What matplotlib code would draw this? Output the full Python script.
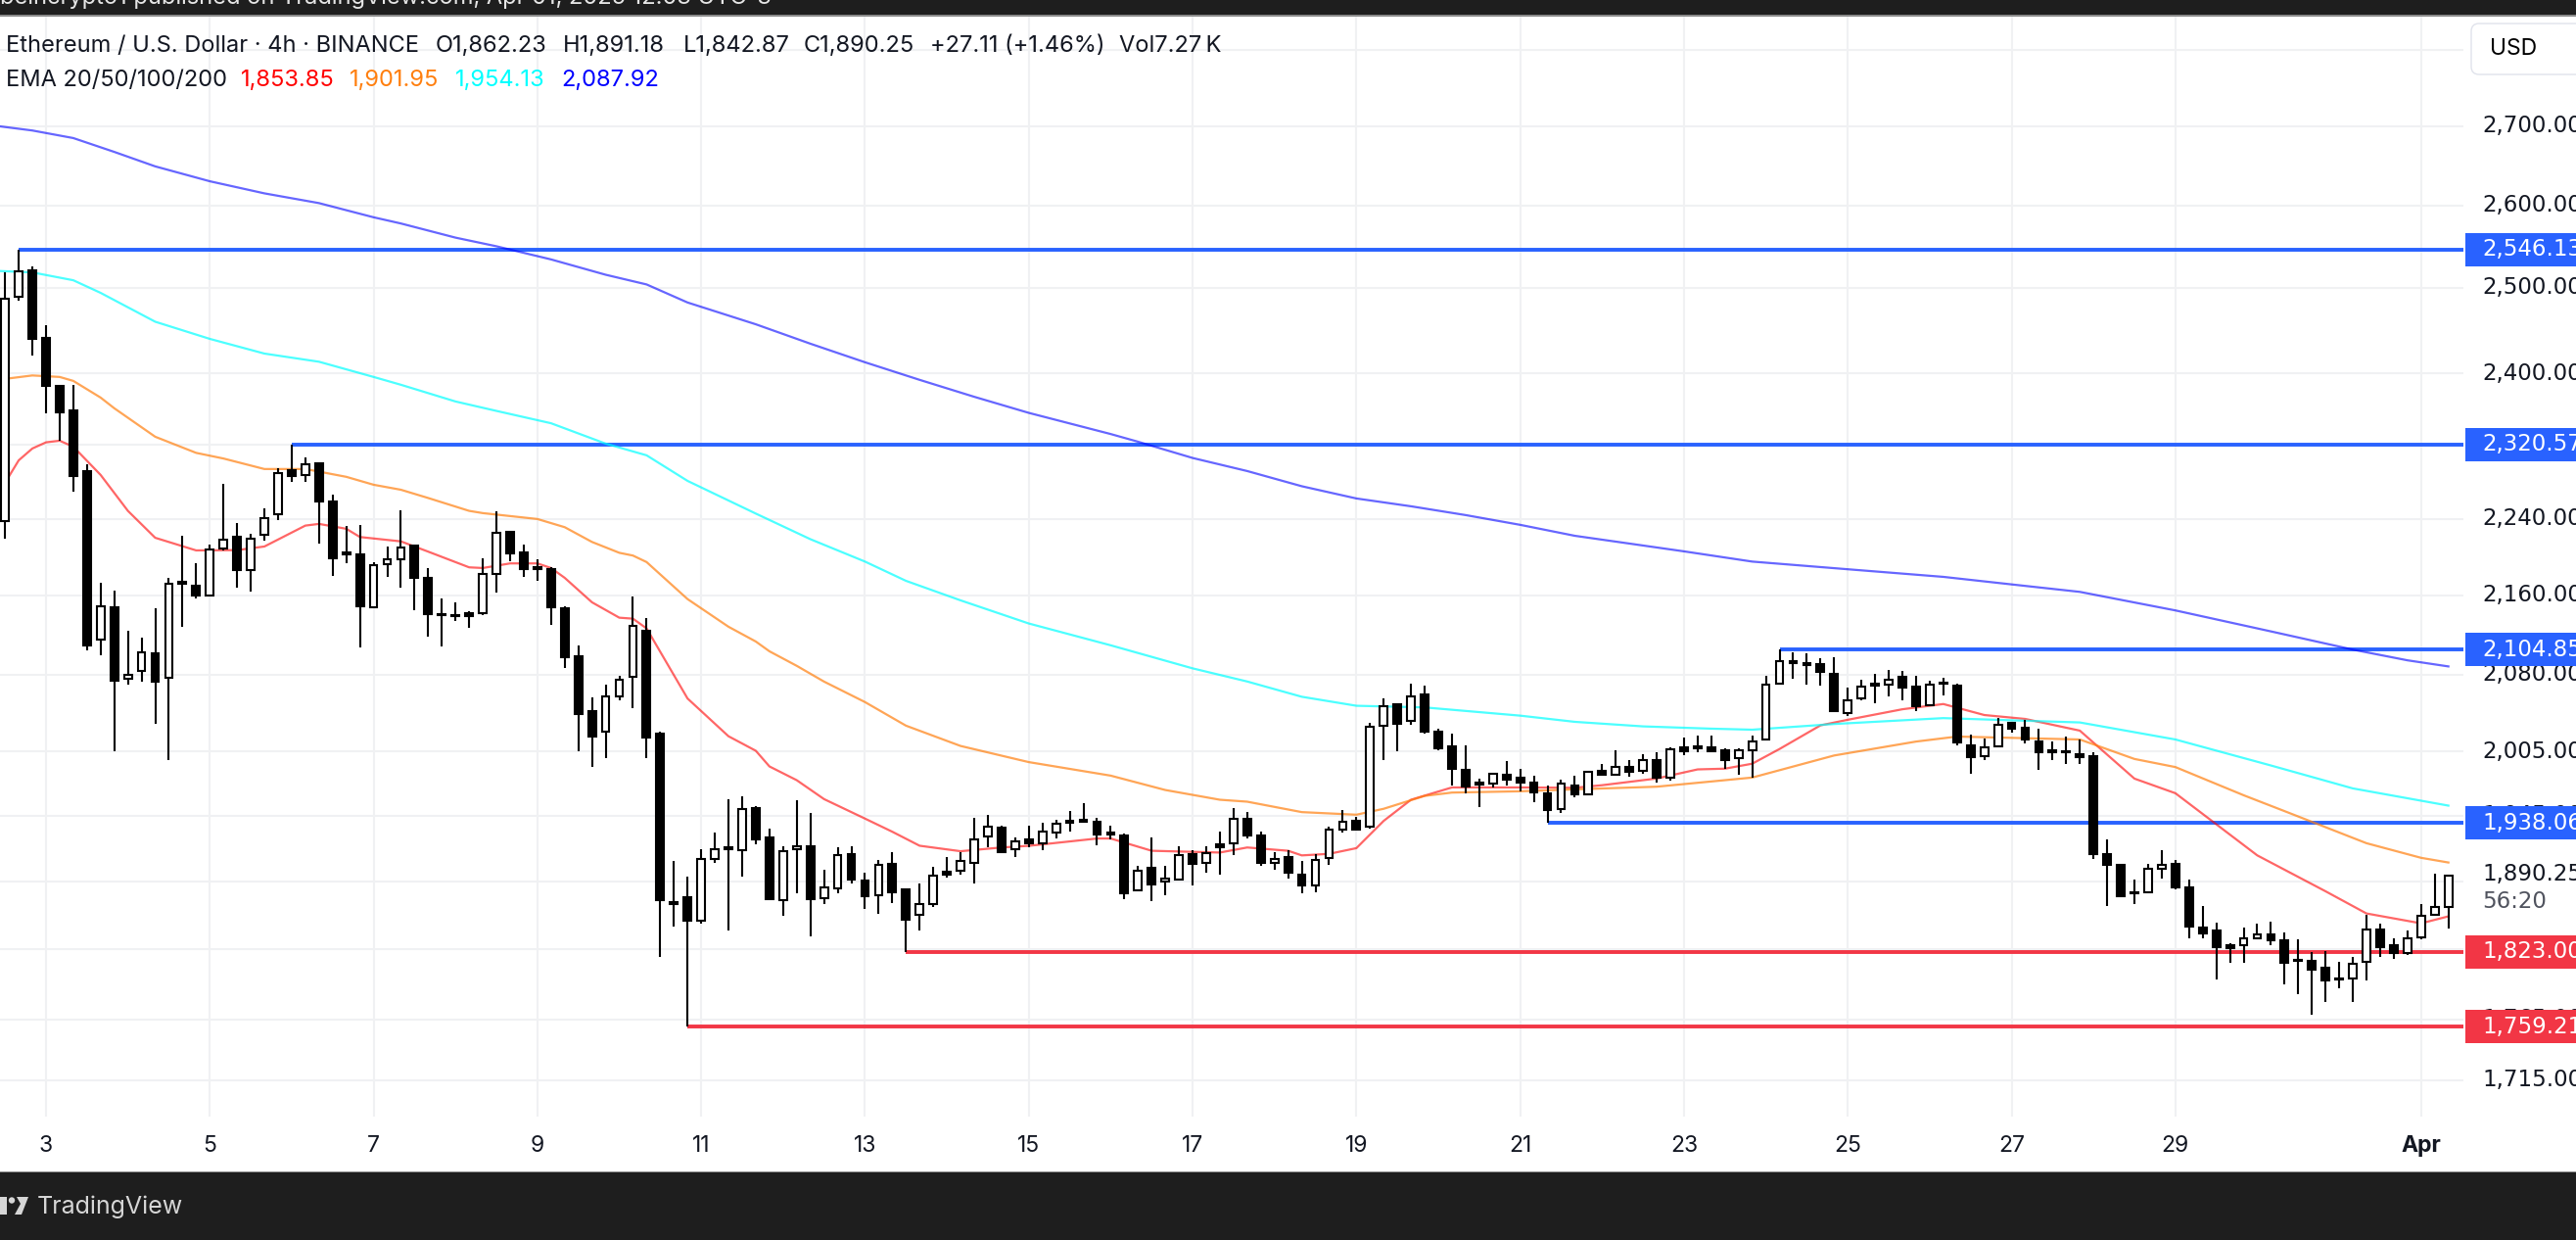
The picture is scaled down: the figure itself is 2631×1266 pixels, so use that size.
# -*- coding: utf-8 -*-
import numpy as np
import matplotlib
matplotlib.use('Agg')
import matplotlib.pyplot as plt
from matplotlib.patches import Rectangle, FancyBboxPatch, Circle, Polygon

W, H = 2631, 1266
plt.rcParams['font.family'] = ['Inter', 'DejaVu Sans']

# 4h candles, first one is three bars before the "3" tick
opens = [2237.5, 2489.5, 2521, 2441, 2386, 2358, 2291, 2115, 2147.6, 2075.5,
         2083.6, 2100.8, 2076.5, 2173.4, 2169.3, 2160, 2208.5, 2220.5, 2185.8, 2223,
         2245, 2292, 2287, 2300, 2258, 2204, 2202, 2148, 2192, 2197,
         2211, 2177.5, 2141, 2140, 2142, 2142, 2181.9, 2225.7, 2204, 2188.7,
         2186.7, 2147, 2098, 2044, 2024, 2058, 2078, 2124, 2022, 1866.3,
         1870.6, 1850, 1905, 1916, 1913, 1952, 1925, 1868, 1913.9, 1917,
         1869.7, 1878.5, 1909.4, 1886, 1872.6, 1900.5, 1877.6, 1855, 1864.5, 1894,
         1894.5, 1902, 1925.5, 1933.6, 1914, 1922.8, 1919.8, 1929.3, 1940, 1941,
         1939, 1929.3, 1927, 1876.6, 1897, 1884.5, 1887, 1910, 1901.6, 1918.7,
         1919, 1941.8, 1927, 1901.4, 1907, 1891, 1881.3, 1906, 1932, 1940,
         1934.8, 2029.9, 2051, 2034.4, 2060, 2023.9, 2009.7, 1987.5, 1975.4, 1974.5,
         1982.9, 1980, 1975.4, 1966, 1950.8, 1973, 1964.5, 1986.5, 1983.4, 1990,
         1987, 1996.6, 1980, 2008.7, 2009.7, 2008.7, 2006, 1998.8, 2006.7, 2017,
         2070.6, 2093, 2091, 2090.4, 2081, 2042, 2056, 2070.6, 2070, 2078,
         2067.8, 2049.4, 2072, 2068.7, 2010.8, 2001, 2010.4, 2032.7, 2027.7, 2014.5,
         2006, 2005.5, 2003, 2000.5, 1910, 1899.7, 1875, 1875, 1896, 1900.5,
         1880, 1843.7, 1841, 1828.4, 1828.7, 1834.9, 1837.8, 1833, 1815.7, 1814.6,
         1809, 1799.8, 1799.6, 1814, 1842, 1828.4, 1821.6, 1835, 1855, 1862.23]
highs = [2518.7, 2546.1, 2525, 2456, 2387, 2387, 2299, 2173, 2164.6, 2123.7,
         2116.7, 2146.6, 2177.8, 2221.8, 2193, 2212.6, 2277.4, 2235, 2223.6, 2251,
         2294, 2320.6, 2306, 2300.5, 2266, 2232, 2233, 2194, 2210, 2249,
         2213, 2187.7, 2156.6, 2153, 2144, 2198, 2247.7, 2226.7, 2212.6, 2197,
         2188.7, 2148.6, 2109, 2057, 2070, 2079, 2158.6, 2136.7, 2024, 1903,
         1889, 1913.9, 1929, 1960, 1962.7, 1954, 1933, 1916.5, 1959, 1947,
         1895, 1916, 1917, 1892.8, 1904, 1911, 1878.5, 1883, 1898, 1906.8,
         1911, 1942.7, 1945.7, 1935.4, 1924.6, 1935.4, 1938, 1941, 1949, 1956.3,
         1942.7, 1935.4, 1928, 1899, 1924.6, 1899, 1916.6, 1913, 1917, 1930,
         1952, 1948, 1930.5, 1911, 1913.5, 1903, 1909.4, 1935, 1950, 1943.6,
         2032.7, 2056, 2052, 2070.6, 2069, 2026.7, 2022, 2010.8, 1979, 1985,
         1996, 1989, 1982, 1972.7, 1978, 1982, 1986, 1993, 2006, 1996.5,
         2002.7, 2004.8, 2009, 2018.5, 2020, 2020, 2007.8, 2007.8, 2020.6, 2079,
         2104.85, 2102, 2101, 2096, 2097, 2067, 2075, 2081, 2084.6, 2083.6,
         2079, 2073.9, 2077, 2070.6, 2021.3, 2017.6, 2037, 2033.9, 2035.6, 2026.7,
         2015, 2019, 2016.6, 2004, 1922.8, 1901, 1887, 1901, 1913, 1904,
         1887, 1862.8, 1848, 1830, 1844, 1847.4, 1848.9, 1839.5, 1833.5, 1823,
         1823.6, 1814, 1818, 1855, 1847.7, 1834.6, 1841.4, 1865, 1891.6, 1891.18]
lows = [2218.7, 2485, 2421, 2355, 2324.6, 2269, 2104, 2099, 2005, 2070,
        2073, 2032, 1997, 2128, 2157, 2158.6, 2206.8, 2167.6, 2164, 2217,
        2238, 2279, 2279, 2214, 2180, 2193.5, 2107, 2148, 2179, 2168,
        2145, 2118, 2108, 2134, 2127, 2140, 2163, 2195, 2179, 2175,
        2130, 2086, 2005, 1990.9, 1999, 2055, 2047, 1999, 1818, 1845,
        1759.2, 1847.7, 1902, 1841.7, 1889, 1918.6, 1868, 1854, 1874, 1836.6,
        1865, 1874.6, 1883.3, 1860.8, 1856.5, 1866, 1823, 1841.7, 1862.5, 1888.6,
        1890.7, 1883, 1916, 1911, 1906.5, 1916, 1913.5, 1924, 1930.5, 1939.6,
        1918, 1923, 1869.4, 1876.6, 1867.7, 1872.6, 1887, 1881.6, 1893, 1891,
        1909, 1924, 1899, 1895.7, 1887.7, 1874, 1875.5, 1900, 1929.6, 1932,
        1933, 1997, 2005.8, 2030.8, 2022.5, 2006.7, 1973, 1965.7, 1953, 1971,
        1973, 1967, 1957.5, 1938.1, 1947, 1962, 1964.5, 1983.4, 1983, 1981,
        1984, 1976, 1977.9, 2002, 2004, 2004, 1989, 1982.6, 1980, 2016,
        2070.6, 2075.5, 2070, 2069, 2043.6, 2039, 2054.7, 2052, 2058.5, 2055,
        2044, 2049.4, 2059, 2010.8, 1984, 1997.4, 2008.9, 2023, 2013, 1988,
        1996.5, 1993, 1993, 1905.5, 1863, 1872, 1865, 1875, 1887.7, 1877.8,
        1834.9, 1834.9, 1799, 1813.7, 1813.7, 1833.5, 1828.4, 1795, 1786.8, 1769.4,
        1779.7, 1791.3, 1780, 1798.4, 1818.7, 1817, 1820, 1833.7, 1855, 1842.87]
closes = [2487.2, 2520, 2440, 2386, 2356, 2286, 2109, 2149, 2074, 2080,
          2102.4, 2073, 2172, 2172, 2160, 2207, 2218, 2186, 2219, 2241,
          2289.5, 2286, 2299, 2258, 2198.6, 2202.6, 2149, 2191, 2197, 2209,
          2178, 2141, 2140, 2139, 2139, 2182, 2225, 2203.7, 2187.3, 2187,
          2148, 2097.5, 2041.6, 2019.7, 2058, 2075, 2129, 2018.8, 1868.6, 1865,
          1850, 1905.5, 1914.4, 1914.4, 1951, 1923, 1869, 1912, 1917, 1869.4,
          1880, 1909, 1887, 1872, 1900, 1875.5, 1851, 1865, 1890, 1891,
          1903, 1923, 1935, 1911.5, 1921, 1919, 1930.5, 1937.8, 1938.7, 1939.6,
          1927.5, 1927.8, 1874, 1894.8, 1882.5, 1887.7, 1909, 1901, 1910.8, 1916,
          1942, 1926.8, 1902, 1905.5, 1893, 1881.6, 1904.6, 1932, 1939, 1932,
          2028.9, 2049, 2032, 2058, 2024.4, 2008, 1988.9, 1972, 1974, 1984,
          1978, 1976, 1966.6, 1950.5, 1974.5, 1965, 1986, 1983.4, 1990, 1986,
          1996.5, 1980.6, 2007.6, 2005.6, 2008, 2005, 1997, 2006.7, 2014.6, 2070,
          2093.6, 2091, 2089.7, 2082, 2043.6, 2055, 2068, 2069, 2075, 2067,
          2049, 2070, 2070.6, 2014, 2000, 2009.5, 2030.8, 2026.7, 2016.4, 2004.8,
          2004.8, 2004, 2000, 1910, 1900, 1872, 1874, 1896.6, 1900, 1880,
          1845, 1839, 1827, 1825.9, 1834.6, 1838.3, 1832.7, 1813, 1814.6, 1807,
          1798.4, 1798.8, 1812.8, 1842.5, 1827, 1821.6, 1834.9, 1854.4, 1862, 1890.25]
bars = np.arange(-3, 177)

# moving averages, read at the bars where the line bends
ema20_x = [-3, -2, -1, 0, 1, 2, 4, 6, 8, 11, 14, 16, 19, 20, 22, 23, 26, 28, 31, 32,
           34, 36, 37, 38, 40, 42, 43, 44, 47, 50, 52, 53, 55, 57, 60, 62, 64, 67, 70, 72,
           77, 78, 81, 86, 88, 91, 92, 94, 96, 98, 100, 103, 108, 112, 114, 118, 121, 123, 125, 127,
           130, 132, 136, 139, 142, 145, 149, 153, 156, 162, 167, 170, 174, 176]
ema20 = [2278.5, 2303, 2316, 2322.8, 2324.6, 2318, 2287.1, 2248.3, 2219.7, 2206.4,
         2206.7, 2210.5, 2232.6, 2234.4, 2229.2, 2220.5, 2215.9, 2205.1, 2188.7, 2188,
         2192.8, 2192.8, 2188, 2177.8, 2152.6, 2136.9, 2135.9, 2126, 2056.3, 2019.7,
         2005.8, 1990.9, 1977.9, 1960.2, 1942.1, 1930, 1917.2, 1912.2, 1915.6, 1917.1,
         1923.8, 1923.8, 1912.6, 1911, 1915.6, 1912.6, 1908.4, 1909.8, 1915, 1940,
         1959.6, 1971.1, 1971.1, 1970.8, 1973.2, 1979.5, 1988.1, 1988.8, 1993.5, 2007.5,
         2030.2, 2035.6, 2045.8, 2050.9, 2040.2, 2036.4, 2025.1, 1979.4, 1965.7, 1908.4,
         1876.1, 1856.4, 1847.7, 1853.85]
ema50_x = [-3, -1, 1, 2, 4, 5, 8, 11, 13, 16, 19, 22, 24, 26, 28, 31, 32, 36, 38, 40,
           42, 43, 44, 47, 50, 52, 53, 55, 57, 60, 63, 67, 72, 78, 82, 86, 88, 92, 96, 98,
           101, 103, 108, 112, 118, 122, 125, 131, 137, 140, 149, 153, 156, 161, 164, 170, 174, 176]
ema50 = [2394, 2397.9, 2396.2, 2391.7, 2372.8, 2360.8, 2329, 2311.2, 2305, 2293.5,
         2293.5, 2285, 2276.4, 2271, 2262.1, 2248.3, 2245.9, 2239.6, 2230.9, 2215.3,
         2203.9, 2201, 2194.2, 2155.9, 2127.7, 2112.8, 2103, 2088.5, 2072.9, 2052.8,
         2029.9, 2010.4, 1995, 1982.2, 1968.7, 1959.6, 1957.8, 1948.1, 1945.7, 1951.2,
         1963.2, 1966.3, 1967.5, 1969.3, 1971.8, 1976.7, 1980.4, 2001.3, 2014.6, 2019.4,
         2016.6, 1998, 1990.3, 1963.8, 1949, 1919.5, 1906.2, 1901.95]
ema100_x = [-4, -1, 2, 4, 8, 12, 16, 20, 24, 26, 30, 33, 37, 41, 44, 47, 52, 56, 60, 63,
            67, 72, 78, 84, 88, 92, 96, 101, 108, 112, 117, 122, 125, 131, 139, 149, 156, 163, 169, 176]
ema100 = [2520.5, 2518.4, 2509, 2494, 2460, 2440, 2423, 2413.6, 2396.2, 2387.3,
          2368.4, 2357.8, 2344, 2321.4, 2308.5, 2280.6, 2245.4, 2218.2, 2194.7, 2174.7,
          2154.6, 2131, 2109, 2086, 2073, 2058, 2049.2, 2047.6, 2039.6, 2033.6,
          2029.2, 2027, 2026, 2031.5, 2037.2, 2033, 2016.6, 1991.8, 1970.2, 1954.13]
ema200_x = [-4, -1, 2, 5, 8, 12, 16, 20, 24, 26, 30, 33, 37, 41, 44, 47, 52, 56, 60, 64,
            68, 72, 78, 80, 84, 88, 92, 96, 100, 104, 108, 112, 116, 120, 125, 132, 139, 144, 149, 156,
            163, 169, 173, 176]
ema200 = [2701, 2694.3, 2684.6, 2667, 2648.7, 2630, 2614.9, 2602.8, 2585.3, 2577.7,
          2560.4, 2549.9, 2534, 2515.6, 2504, 2482.6, 2457, 2434.4, 2413, 2392.9,
          2373.7, 2355.6, 2332, 2323.5, 2305.6, 2291.3, 2274.8, 2261.6, 2253.2, 2243.8,
          2233.4, 2221.8, 2213.6, 2205.4, 2194.7, 2186.7, 2178.8, 2171, 2163.3, 2144.3,
          2123, 2104.7, 2094, 2087.92]

# support / resistance levels: price, first bar, colour
level_prices = [2546.13, 2320.57, 2104.85, 1938.06, 1823.0, 1759.21]
level_starts = [-2, 18, 127, 110, 63, 47]
level_colors = ['#2962ff', '#2962ff', '#2962ff', '#2962ff', '#f23645', '#f23645']

grid_prices = [2800, 2700, 2600, 2500, 2400, 2320, 2240, 2160, 2080, 2005, 1945, 1885, 1825, 1765, 1715]
price_labels = [2700, 2600, 2500, 2400, 2240, 2160, 2080, 2005, 1945, 1765, 1715]
day_ticks = list(range(0, 157, 12)) + [174]
day_labels = ['3', '5', '7', '9', '11', '13', '15', '17', '19', '21', '23', '25', '27', '29', 'Apr']
price_font = ['DejaVu Sans']


def fx(x):
    return x / W


def fy(y):
    return 1 - y / H


def put(x, y, s, **kw):
    kw.setdefault('color', '#131722')
    kw.setdefault('va', 'center')
    return fig.text(fx(x), fy(y), s, **kw)


fig = plt.figure(figsize=(W / 100, H / 100), dpi=100, facecolor='white')
ax = fig.add_axes([0, fy(1140), fx(2516), fy(16.5) - fy(1140)])
ax.set_yscale('log')
ax.set_xlim(-3.37, 177.1)
ax.set_ylim(1685.4, 2844.9)
for s in ax.spines.values():
    s.set_visible(False)
ax.minorticks_off()
ax.set_yticks(grid_prices)
ax.set_xticks(day_ticks)
ax.tick_params(length=0, labelleft=False, labelbottom=False, which='both')
ax.grid(True, color='#f0f1f3', linewidth=1.5)
ax.set_axisbelow(True)

for p, start, c in zip(level_prices, level_starts, level_colors):
    ax.plot([start, 177.1], [p, p], color=c, linewidth=2.8, zorder=2, solid_capstyle='butt')

ax.plot(ema20_x, ema20, color='#ff0000', alpha=0.6, linewidth=1.6, zorder=3)
ax.plot(ema50_x, ema50, color='#ff7f0e', alpha=0.7, linewidth=1.6, zorder=3)
ax.plot(ema100_x, ema100, color='#00ffff', alpha=0.7, linewidth=1.6, zorder=3)
ax.plot(ema200_x, ema200, color='#0000ff', alpha=0.6, linewidth=1.6, zorder=3)

opens = np.array(opens)
closes = np.array(closes)
ax.vlines(bars, lows, highs, color='black', linewidth=1.5, zorder=4)
body_low = np.minimum(opens, closes)
body_h = np.abs(closes - opens)
faces = ['white' if c >= o else 'black' for o, c in zip(opens, closes)]
ax.bar(bars, body_h, bottom=body_low, width=0.56, color=faces, edgecolor='black', linewidth=1.5, zorder=5)

# legend
put(6, 47, 'Ethereum / U.S. Dollar · 4h · BINANCE', fontsize=17)
put(444.6, 47, 'O1,862.23', fontsize=17)
put(575, 47, 'H1,891.18', fontsize=17)
put(698, 47, 'L1,842.87', fontsize=17)
put(821, 47, 'C1,890.25', fontsize=17)
put(950, 47, '+27.11 (+1.46%)', fontsize=17)
put(1143, 47, 'Vol7.27\u2009K', fontsize=17)
put(6, 82, 'EMA 20/50/100/200', fontsize=17)
put(246, 82, '1,853.85', fontsize=17, color='#ff0000')
put(357, 82, '1,901.95', fontsize=17, color='#ff7f0e')
put(465, 82, '1,954.13', fontsize=17, color='#00ffff')
put(573, 82, '2,087.92', fontsize=17, color='#0000ff')

# price axis
axis_bg = Rectangle((fx(2517), fy(1140)), fx(114), fy(16.5) - fy(1140), transform=fig.transFigure,
                    facecolor='white', edgecolor='none', zorder=1)
fig.add_artist(axis_bg)
for p in price_labels:
    y = ax.transData.transform((0, p))[1]
    fig.text(fx(2535), y / H, '{:,.2f}'.format(p), fontsize=16.5, color='#131722', va='center', zorder=2,
             family=price_font)
for p, c in zip(level_prices, level_colors):
    y = ax.transData.transform((0, p))[1]
    fig.add_artist(Rectangle((fx(2518), (y - 17) / H), fx(113), 34 / H, transform=fig.transFigure,
                             facecolor=c, edgecolor='none', zorder=3))
    fig.text(fx(2535), y / H, '{:,.2f}'.format(p), fontsize=16.5, color='white', va='center', zorder=4,
             family=price_font)
put(2535, 892.7, '1,890.25', fontsize=16.5, zorder=4, family=price_font)
put(2535, 920.7, '56:20', fontsize=16.5, color='#50535e', zorder=4, family=price_font)
fig.add_artist(FancyBboxPatch((2524, H - 76), 140, 52, boxstyle='round,pad=0,rounding_size=8',
                              transform=None, facecolor='white', edgecolor='#e0e3eb', linewidth=1, zorder=3))
put(2543, 49.5, 'USD', fontsize=16.5, zorder=4, color='#000000')

# time axis
for t, lab in zip(day_ticks, day_labels):
    x = ax.transData.transform((t, 2000))[0]
    put(x, 1170, lab, fontsize=16.5, ha='center', fontweight='bold' if lab == 'Apr' else 'normal')

# dark header and footer
fig.add_artist(Rectangle((0, fy(16)), 1, 16 / H, transform=fig.transFigure, facecolor='#1e1e1e', edgecolor='none', zorder=6))
fig.add_artist(Rectangle((0, fy(17)), 1, 1.5 / H, transform=fig.transFigure, facecolor='#8a8a8a', edgecolor='none', zorder=6))
fig.add_artist(Rectangle((0, 0), 1, (H - 1196) / H, transform=fig.transFigure, facecolor='#1e1e1e', edgecolor='none', zorder=6))
fig.add_artist(Rectangle((0, fy(1197)), 1, 1.5 / H, transform=fig.transFigure, facecolor='#8a8a8a', edgecolor='none', zorder=6))
put(0, 4, 'beincrypto1 published on TradingView.com, Apr 01, 2025 12:03 UTC-3', fontsize=17, color='#e6e6e6',
    va='baseline', zorder=7)
put(38, 1232, 'TradingView', fontsize=18, color='#d6d6d6', zorder=7)

# logo, cut off at the left edge
logo = '#d6d6d6'
fig.add_artist(Rectangle((0, fy(1240)), 7 / W, 18 / H, transform=fig.transFigure, facecolor=logo, edgecolor='none', zorder=7))
fig.add_artist(Circle((12, H - 1225.5), 3.2, transform=None, facecolor=logo, edgecolor='none', zorder=7))
fig.add_artist(Polygon([(15, H - 1240), (22, H - 1240), (29, H - 1222), (17, H - 1222), (21, H - 1229)], closed=True,
                       transform=None, facecolor=logo, edgecolor='none', zorder=7))

fig.savefig('out.png', dpi=100, facecolor='white')
